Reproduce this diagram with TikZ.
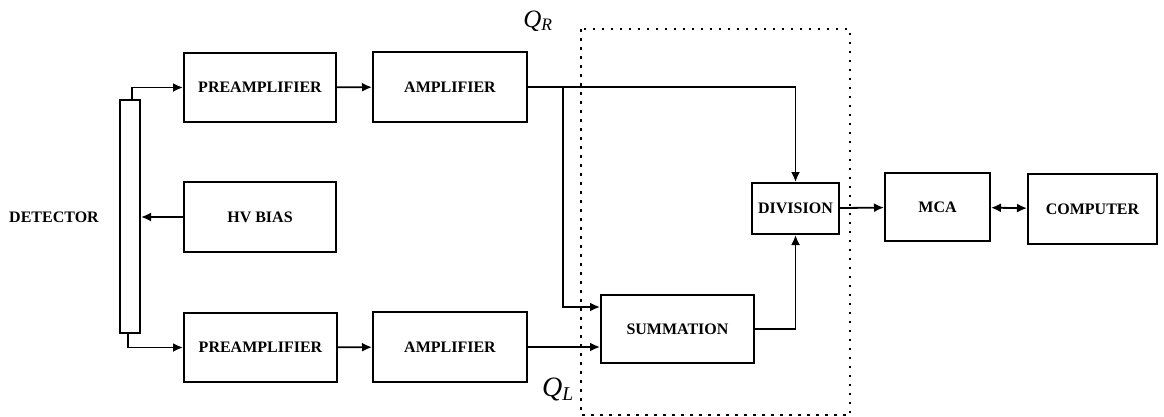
\documentclass[tikz,border=0pt]{standalone}
\usepackage{fontspec}
\setmainfont{Liberation Serif}
\usetikzlibrary{arrows.meta}

\begin{document}
\begin{tikzpicture}[x=1pt,y=-1pt,
    blk/.style={draw,line width=2pt,inner sep=0pt,font=\bfseries\fontsize{16}{16}\selectfont},
    wire/.style={line width=1.8pt,-{Latex[length=10pt,width=9pt]}}]
    \useasboundingbox (0,0) rectangle (1164,416);
    % detector
    \node[draw,line width=2pt,minimum width=20pt,minimum height=233pt] (bar) at (130,216.5) {};
    \node[font=\bfseries\fontsize{16}{16}\selectfont] (detlabel) at (54,217) {DETECTOR};
    % blocks
    \node[blk,minimum width=152pt,minimum height=69pt] (preR) at (260,87.5) {PREAMPLIFIER};
    \node[blk,minimum width=154pt,minimum height=70pt] (ampR) at (450,87) {AMPLIFIER};
    \node[blk,minimum width=152pt,minimum height=70pt] (hv) at (260,217) {HV BIAS};
    \node[blk,minimum width=153pt,minimum height=69pt] (preL) at (260.5,347.5) {PREAMPLIFIER};
    \node[blk,minimum width=154pt,minimum height=70pt] (ampL) at (450,347) {AMPLIFIER};
    \node[blk,minimum width=153pt,minimum height=68pt] (sum) at (677.5,329) {SUMMATION};
    \node[blk,minimum width=87pt,minimum height=51pt] (div) at (795.5,208.5) {DIVISION};
    \node[blk,minimum width=105pt,minimum height=68pt] (mca) at (937.5,207) {MCA};
    \node[blk,minimum width=129pt,minimum height=70pt] (comp) at (1092.5,209) {COMPUTER};
    % dotted frame
    \draw[line width=2.5pt,dash pattern=on 2.5pt off 6.5pt] (581,29) rectangle (850,415);
    \node[font=\fontsize{25}{25}\selectfont] (qr) at (538,21) {$\mathit{Q}_{\mathit{R}}$};
    \node[font=\fontsize{28}{28}\selectfont] (ql) at (558,389) {$\mathit{Q}_{\mathit{L}}$};
    % connections
    \draw[wire] ([xshift=2pt]bar.north) |- (preR.west);
    \draw[wire] ([xshift=-2pt]bar.south) |- (preL.west);
    \draw[wire] (hv.west) -- (hv.west -| bar.east);
    \draw[wire] (preR) -- (ampR);
    \draw[wire] (preL) -- (ampL);
    \coordinate (br) at (563,87);
    \draw[wire] (ampR.east) -| (div.north);
    \draw[wire] (br) |- ([yshift=22pt]sum.west);
    \draw[wire] (ampL) -- (ampL -| sum.west);
    \draw[wire] (sum.east) -| (div.south);
    \draw[wire] (div) -- (mca);
    \draw[wire,{Latex[length=10pt,width=9pt]}-{Latex[length=10pt,width=9pt]}] (mca) -- (comp);
\end{tikzpicture}
\end{document}
